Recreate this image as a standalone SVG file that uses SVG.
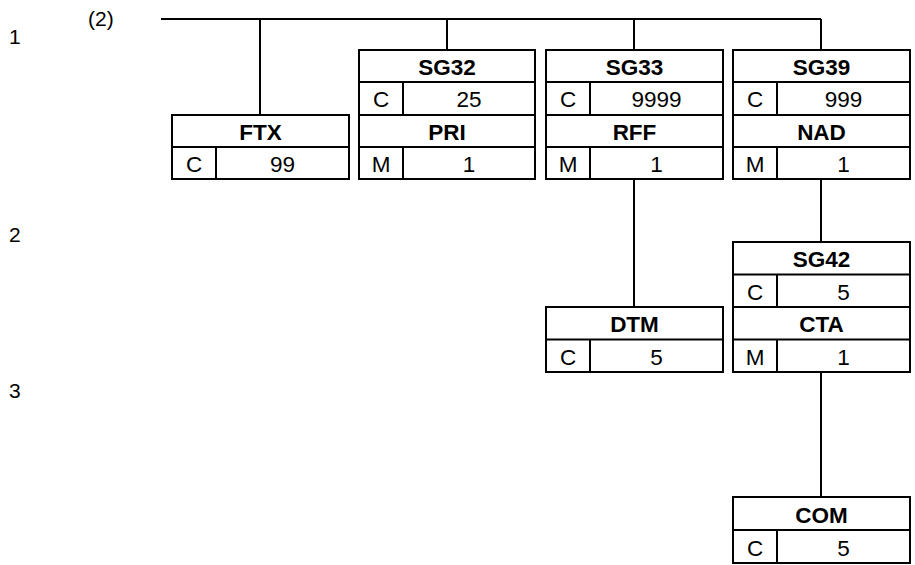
<svg xmlns="http://www.w3.org/2000/svg" width="915" height="565" viewBox="0 0 915 565">
<style>
.bx{fill:#fff;stroke:#000;stroke-width:2}
.ln{stroke:#000;stroke-width:2;fill:none}
.t{font-family:"Liberation Sans",Arial,sans-serif;font-size:22.5px;fill:#000;text-anchor:middle}
.b{font-weight:bold}
.lbl{font-family:"Liberation Sans",Arial,sans-serif;font-size:21px;fill:#000}
</style>
<rect width="915" height="565" fill="#fff"/>
<g id="labels">
<text class="lbl" x="9" y="44">1</text>
<text class="lbl" x="88" y="26">(2)</text>
<text class="lbl" x="9" y="242">2</text>
<text class="lbl" x="9" y="398">3</text>
</g>
<g id="connectors">
<path class="ln" d="M161 19H821M260 19V115M447 19V50M634 19V50M821 19V50M634 179V307M821 179V242M821 372V497"/>
</g>
<g id="FTX">
<rect class="bx" x="172" y="115" width="177" height="64"/>
<path class="ln" d="M172 147H349M216 147V179"/>
<text class="t b" x="260.5" y="140">FTX</text>
<text class="t" x="194" y="172">C</text>
<text class="t" x="282.5" y="172">99</text>
</g>
<g id="SG32">
<rect class="bx" x="359" y="50" width="176" height="129"/>
<path class="ln" d="M359 82H535M359 115H535M359 147H535M403 82V115M403 147V179"/>
<text class="t b" x="447" y="75">SG32</text>
<text class="t" x="381" y="107">C</text>
<text class="t" x="469" y="107">25</text>
<text class="t b" x="447" y="140">PRI</text>
<text class="t" x="381" y="172">M</text>
<text class="t" x="469" y="172">1</text>
</g>
<g id="SG33">
<rect class="bx" x="546" y="50" width="177" height="129"/>
<path class="ln" d="M546 82H723M546 115H723M546 147H723M590 82V115M590 147V179"/>
<text class="t b" x="634.5" y="75">SG33</text>
<text class="t" x="568" y="107">C</text>
<text class="t" x="656.5" y="107">9999</text>
<text class="t b" x="634.5" y="140">RFF</text>
<text class="t" x="568" y="172">M</text>
<text class="t" x="656.5" y="172">1</text>
</g>
<g id="SG39">
<rect class="bx" x="733" y="50" width="177" height="129"/>
<path class="ln" d="M733 82H910M733 115H910M733 147H910M777 82V115M777 147V179"/>
<text class="t b" x="821.5" y="75">SG39</text>
<text class="t" x="755" y="107">C</text>
<text class="t" x="843.5" y="107">999</text>
<text class="t b" x="821.5" y="140">NAD</text>
<text class="t" x="755" y="172">M</text>
<text class="t" x="843.5" y="172">1</text>
</g>
<g id="DTM">
<rect class="bx" x="546" y="307" width="177" height="65"/>
<path class="ln" d="M546 339.5H723M590 339.5V372"/>
<text class="t b" x="634.5" y="332">DTM</text>
<text class="t" x="568" y="364.5">C</text>
<text class="t" x="656.5" y="364.5">5</text>
</g>
<g id="SG42">
<rect class="bx" x="733" y="242" width="177" height="130"/>
<path class="ln" d="M733 274.5H910M733 307H910M733 339.5H910M777 274.5V307M777 339.5V372"/>
<text class="t b" x="821.5" y="267">SG42</text>
<text class="t" x="755" y="299.5">C</text>
<text class="t" x="843.5" y="299.5">5</text>
<text class="t b" x="821.5" y="332">CTA</text>
<text class="t" x="755" y="364.5">M</text>
<text class="t" x="843.5" y="364.5">1</text>
</g>
<g id="COM">
<rect class="bx" x="733" y="497" width="177" height="66"/>
<path class="ln" d="M733 530H910M777 530V563"/>
<text class="t b" x="821.5" y="522.5">COM</text>
<text class="t" x="755" y="555.5">C</text>
<text class="t" x="843.5" y="555.5">5</text>
</g>
</svg>
